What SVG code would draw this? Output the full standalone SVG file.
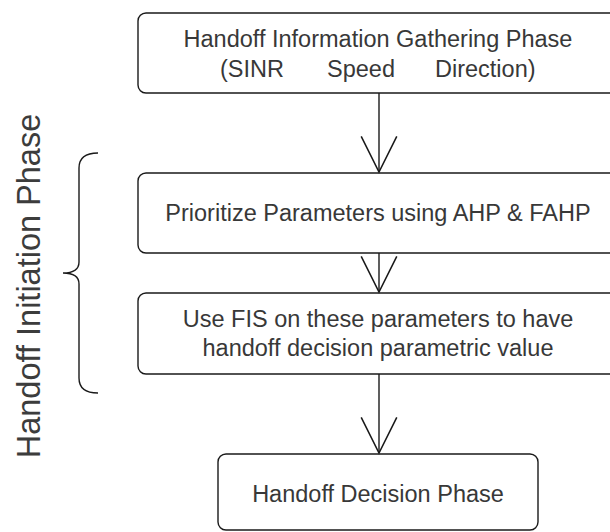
<svg xmlns="http://www.w3.org/2000/svg" width="610" height="532" viewBox="0 0 610 532">
  <defs>
    <style>
      .box { fill: #ffffff; stroke: #1a1a1a; stroke-width: 1.4; }
      .lbl { font-family: "Liberation Sans", Arial, sans-serif; font-size: 23.5px; fill: #383838; text-anchor: middle; }
      .side { font-family: "Liberation Sans", Arial, sans-serif; font-size: 32.5px; fill: #3c3c3c; text-anchor: middle; }
      .edge { fill: none; stroke: #1a1a1a; stroke-width: 1.4; }
    </style>
    <marker id="vhead" markerUnits="userSpaceOnUse" markerWidth="40" markerHeight="40" viewBox="-34 -18 36 36" refX="0" refY="0" orient="auto">
      <path d="M-32,-16 L0,0 L-32,16" fill="none" stroke="#1a1a1a" stroke-width="1.4"/>
    </marker>
  </defs>
  <rect width="610" height="532" fill="#ffffff"/>

  <g id="gathering">
    <rect class="box" x="138" y="13" width="484" height="80" rx="8"/>
    <text class="lbl" x="378" y="47">Handoff Information Gathering Phase</text>
    <text class="lbl" y="77" style="text-anchor:start"><tspan x="220">(SINR</tspan><tspan x="327">Speed</tspan><tspan x="435">Direction)</tspan></text>
  </g>

  <g id="prioritize">
    <rect class="box" x="138" y="173" width="484" height="80" rx="8"/>
    <text class="lbl" x="378" y="221">Prioritize Parameters using AHP &amp; FAHP</text>
  </g>

  <g id="fis">
    <rect class="box" x="138" y="293" width="484" height="81" rx="8"/>
    <text class="lbl" x="378" y="327">Use FIS on these parameters to have</text>
    <text class="lbl" x="378" y="356">handoff decision parametric value</text>
  </g>

  <g id="decision">
    <rect class="box" x="218" y="454" width="320" height="76" rx="8"/>
    <text class="lbl" x="378" y="502">Handoff Decision Phase</text>
  </g>

  <g id="initiation">
    <path class="edge" d="M98,153 Q79,153 79,168 L79,262 Q79,273 63,273 Q79,273 79,284 L79,378 Q79,393 98,393"/>
    <text class="side" transform="translate(40,286) rotate(-90)">Handoff Initiation Phase</text>
  </g>

  <g id="connectors">
    <line class="edge" x1="379" y1="93" x2="379" y2="172" marker-end="url(#vhead)"/>
    <line class="edge" x1="379" y1="253" x2="379" y2="292" marker-end="url(#vhead)"/>
    <line class="edge" x1="379" y1="374" x2="379" y2="453" marker-end="url(#vhead)"/>
  </g>
</svg>
